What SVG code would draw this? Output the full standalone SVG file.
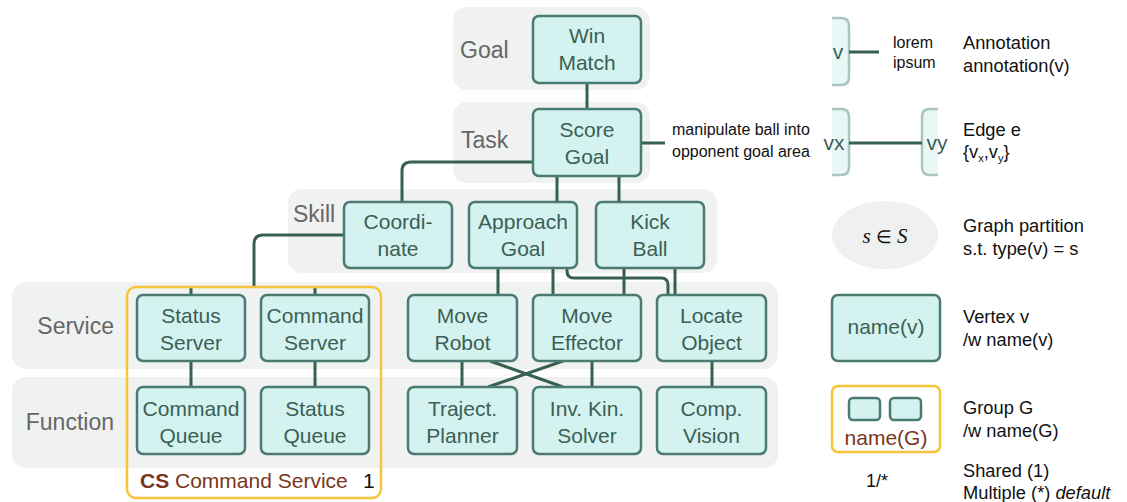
<svg xmlns="http://www.w3.org/2000/svg" width="1127" height="502" viewBox="0 0 1127 502">
<style>
.panel{fill:#F0F1F1}
.plabel{font-family:"Liberation Sans",Arial,sans-serif;font-size:23px;fill:#666}
.node rect{fill:#D4F2EF;stroke:#4A7B72;stroke-width:2.5}
.node text{font-family:"Liberation Sans",Arial,sans-serif;font-size:21px;fill:#3B5F55;text-anchor:middle}
.conn path,.conn line{stroke:#36604F;stroke-width:3;fill:none}
.leg{font-family:"Liberation Sans",Arial,sans-serif;font-size:18.3px;fill:#111}
.small{font-family:"Liberation Sans",Arial,sans-serif;font-size:16px;fill:#111}
.grp{fill:none;stroke:#F7C43A;stroke-width:2.5}
.brown{font-family:"Liberation Sans",Arial,sans-serif;fill:#7A3520}
.part{fill:#E9F8F6;stroke:none}
.partb{fill:none;stroke:#A9C5C0;stroke-width:2.5}
</style>
<g id="panels">
<rect class="panel" x="453" y="7" width="197" height="83" rx="14"/>
<rect class="panel" x="453" y="102" width="197" height="81" rx="14"/>
<rect class="panel" x="288" y="189" width="429" height="84" rx="14"/>
<rect class="panel" x="12" y="282" width="766" height="87" rx="14"/>
<rect class="panel" x="12" y="377" width="766" height="91" rx="14"/>
<text class="plabel" x="460" y="58">Goal</text>
<text class="plabel" x="461" y="148">Task</text>
<text class="plabel" x="293" y="222">Skill</text>
<text class="plabel" x="114" y="334" text-anchor="end">Service</text>
<text class="plabel" x="114" y="430" text-anchor="end">Function</text>
</g>
<g id="connectors" class="conn">
<line x1="587" y1="83" x2="587" y2="109"/>
<path d="M533,162 H411 Q402,162 402,171 V202"/>
<line x1="557" y1="176" x2="557" y2="202"/>
<line x1="619" y1="176" x2="619" y2="202"/>
<path d="M344,235 H263 Q254,235 254,244 V287"/>
<line x1="191" y1="287" x2="191" y2="295"/>
<line x1="315" y1="287" x2="315" y2="295"/>
<line x1="498" y1="268" x2="498" y2="295"/>
<line x1="553" y1="268" x2="553" y2="295"/>
<line x1="624" y1="268" x2="624" y2="295"/>
<line x1="675" y1="268" x2="675" y2="295"/>
<path d="M567,268 V271 Q567,278 574,278 H661 Q668,278 668,285 V295"/>
<line x1="191" y1="361" x2="191" y2="387"/>
<line x1="315" y1="361" x2="315" y2="387"/>
<line x1="462" y1="361" x2="462" y2="387"/>
<line x1="490" y1="361" x2="563" y2="387"/>
<line x1="563" y1="361" x2="488" y2="387"/>
<line x1="592" y1="361" x2="592" y2="387"/>
<line x1="712" y1="361" x2="712" y2="387"/>
<line x1="641" y1="143" x2="665" y2="143"/>
</g>
<g id="annotation">
<text class="small" x="672" y="135">manipulate ball into</text>
<text class="small" x="672" y="157">opponent goal area</text>
</g>
<g id="win" class="node"><rect x="533" y="16" width="108" height="67" rx="6"/><text x="587" y="43">Win</text><text x="587" y="70">Match</text></g>
<g id="score" class="node"><rect x="533" y="109" width="108" height="67" rx="6"/><text x="587" y="137">Score</text><text x="587" y="164">Goal</text></g>
<g id="coordinate" class="node"><rect x="344" y="202" width="108" height="66" rx="6"/><text x="398" y="229">Coordi-</text><text x="398" y="256">nate</text></g>
<g id="approach" class="node"><rect x="469" y="202" width="108" height="66" rx="6"/><text x="523" y="229">Approach</text><text x="523" y="256">Goal</text></g>
<g id="kick" class="node"><rect x="596" y="202" width="108" height="66" rx="6"/><text x="650" y="229">Kick</text><text x="650" y="256">Ball</text></g>
<g id="statusServer" class="node"><rect x="137" y="295" width="108" height="66" rx="6"/><text x="191" y="323">Status</text><text x="191" y="350">Server</text></g>
<g id="commandServer" class="node"><rect x="261" y="295" width="108" height="66" rx="6"/><text x="315" y="323">Command</text><text x="315" y="350">Server</text></g>
<g id="moveRobot" class="node"><rect x="408" y="295" width="109" height="66" rx="6"/><text x="462.5" y="323">Move</text><text x="462.5" y="350">Robot</text></g>
<g id="moveEffector" class="node"><rect x="533" y="295" width="108" height="66" rx="6"/><text x="587" y="323">Move</text><text x="587" y="350">Effector</text></g>
<g id="locate" class="node"><rect x="657" y="295" width="109" height="66" rx="6"/><text x="711.5" y="323">Locate</text><text x="711.5" y="350">Object</text></g>
<g id="commandQueue" class="node"><rect x="137" y="387" width="108" height="67" rx="6"/><text x="191" y="416">Command</text><text x="191" y="443">Queue</text></g>
<g id="statusQueue" class="node"><rect x="261" y="387" width="108" height="67" rx="6"/><text x="315" y="416">Status</text><text x="315" y="443">Queue</text></g>
<g id="traject" class="node"><rect x="408" y="387" width="109" height="67" rx="6"/><text x="462.5" y="416">Traject.</text><text x="462.5" y="443">Planner</text></g>
<g id="invkin" class="node"><rect x="533" y="387" width="108" height="67" rx="6"/><text x="587" y="416">Inv. Kin.</text><text x="587" y="443">Solver</text></g>
<g id="compvision" class="node"><rect x="657" y="387" width="109" height="67" rx="6"/><text x="711.5" y="416">Comp.</text><text x="711.5" y="443">Vision</text></g>
<g id="groupCS">
<rect class="grp" x="127" y="287" width="254" height="211" rx="9"/>
<text class="brown" x="140" y="488" font-size="21"><tspan font-weight="bold">CS</tspan> Command Service</text>
<text x="363" y="488" font-family="Liberation Sans, Arial, sans-serif" font-size="21" fill="#111">1</text>
</g>
<g id="legend">
<g id="leg-annotation">
<rect class="part" x="832" y="18" width="17" height="67"/>
<path class="partb" d="M832,18 H841 Q849,18 849,26 V77 Q849,85 841,85 H832"/>
<text x="838" y="59" font-family="Liberation Sans, Arial, sans-serif" font-size="21" fill="#3B5F55" text-anchor="middle">v</text>
<line x1="849" y1="52" x2="879" y2="52" stroke="#36604F" stroke-width="3"/>
<text class="small" x="893" y="48" font-size="15">lorem</text>
<text class="small" x="893" y="68" font-size="15">ipsum</text>
<text class="leg" x="963" y="49">Annotation</text>
<text class="leg" x="963" y="72">annotation(v)</text>
</g>
<g id="leg-edge">
<rect class="part" x="832" y="109" width="17" height="66"/>
<path class="partb" d="M832,109 H841 Q849,109 849,117 V167 Q849,175 841,175 H832"/>
<rect class="part" x="922" y="109" width="16" height="66"/>
<path class="partb" d="M938,109 H930 Q922,109 922,117 V167 Q922,175 930,175 H938"/>
<line x1="849" y1="143" x2="922" y2="143" stroke="#36604F" stroke-width="3"/>
<text x="834" y="150" font-family="Liberation Sans, Arial, sans-serif" font-size="21" fill="#3B5F55" text-anchor="middle">vx</text>
<text x="937" y="150" font-family="Liberation Sans, Arial, sans-serif" font-size="21" fill="#3B5F55" text-anchor="middle">vy</text>
<text class="leg" x="963" y="136">Edge e</text>
<text class="leg" x="963" y="158">{v<tspan dy="4" font-size="11">x</tspan><tspan dy="-4">,v</tspan><tspan dy="4" font-size="11">y</tspan><tspan dy="-4">}</tspan></text>
</g>
<g id="leg-partition">
<ellipse cx="885" cy="235" rx="53" ry="34" fill="#EFF0F0"/>
<text x="885" y="243" font-family="Liberation Serif, Times New Roman, serif" font-size="21" font-style="italic" fill="#111" text-anchor="middle">s <tspan font-style="normal" font-size="18">∈</tspan> S</text>
<text class="leg" x="963" y="232">Graph partition</text>
<text class="leg" x="963" y="255">s.t. type(v) = s</text>
</g>
<g id="leg-vertex" class="node">
<rect x="832" y="295" width="108" height="66" rx="6"/>
<text x="886" y="334">name(v)</text>
</g>
<text class="leg" x="963" y="323">Vertex v</text>
<text class="leg" x="963" y="346">/w name(v)</text>
<g id="leg-group">
<rect class="grp" x="832" y="386" width="108" height="66" rx="6"/>
<g class="node"><rect x="849" y="398" width="31" height="22" rx="4"/><rect x="890" y="398" width="31" height="22" rx="4"/></g>
<text class="brown" x="886" y="445" font-size="21" text-anchor="middle">name(G)</text>
<text class="leg" x="963" y="414">Group G</text>
<text class="leg" x="963" y="437">/w name(G)</text>
</g>
<g id="leg-mult">
<text x="877" y="487" font-family="Liberation Sans, Arial, sans-serif" font-size="18" fill="#111" text-anchor="middle">1/*</text>
<text class="leg" x="963" y="477">Shared (1)</text>
<text class="leg" x="963" y="499">Multiple (*) <tspan font-style="italic">default</tspan></text>
</g>
</g>
</svg>
